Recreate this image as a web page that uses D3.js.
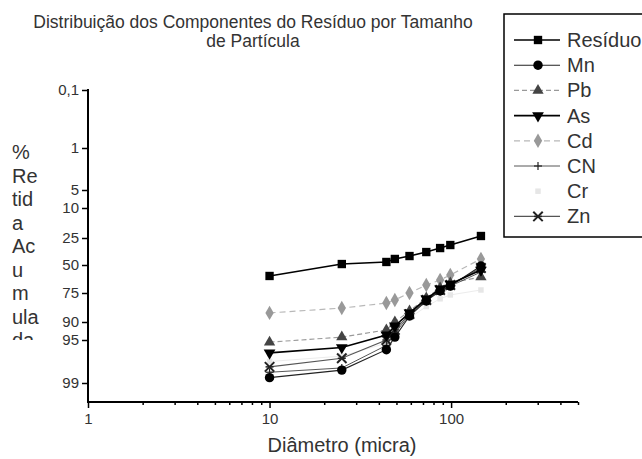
<!DOCTYPE html>
<html><head><meta charset="utf-8">
<script src="https://cdn.jsdelivr.net/npm/d3@7"></script>
<style>body{margin:0;background:#fff}svg{display:block}</style>
</head><body>
<svg id="c" width="642" height="459"></svg>
<script>
const diameters = [10, 25, 44, 49, 59, 73, 87, 99, 146];
const residuo = [59.8, 49.1, 47.2, 44.4, 41.7, 38.0, 34.3, 31.5, 24.0];
const mn = [98.5, 97.8, 95.9, 94.2, 86.9, 79.1, 73.2, 68.8, 50.9];
const pb = [95.2, 94.2, 92.2, 90.0, 84.3, 77.6, 70.5, 66.1, 60.7];
const as = [96.2, 95.7, 93.6, 91.1, 85.3, 78.1, 71.4, 67.0, 54.5];
const cd = [85.3, 82.8, 80.2, 78.6, 75.0, 67.9, 63.4, 58.9, 44.4];
const cn = [98.0, 97.6, 95.5, 93.1, 86.4, 78.6, 72.3, 68.8, 56.3];
const cr = [97.0, 96.5, 95.3, 93.0, 88.0, 82.0, 78.0, 76.0, 72.3];
const zn = [97.5, 96.7, 95.0, 92.2, 85.9, 78.6, 72.3, 67.9, 52.7];
const yTicks = [0.1, 1, 5, 10, 25, 50, 75, 90, 95, 99];
const yTickLabels = ["0,1", "1", "5", "10", "25", "50", "75", "90", "95", "99"];
const xMajor = [1, 10, 100];
const yTitleLines = ["%", "Re", "tid", "a", "Ac", "u", "m", "ula", "da"];
const seriesNames = ["Resíduo", "Mn", "Pb", "As", "Cd", "CN", "Cr", "Zn"];

const series = [
  {name: "Resíduo", values: residuo, stroke: "#000", sw: 1.6, dash: null, sym: d3.symbolSquare, size: 70, fill: "#000", mstroke: "none"},
  {name: "Mn", values: mn, stroke: "#222", sw: 1.1, dash: null, sym: d3.symbolCircle, size: 70, fill: "#000", mstroke: "none"},
  {name: "Pb", values: pb, stroke: "#999", sw: 1.1, dash: "5,3", sym: d3.symbolTriangle, size: 55, fill: "#444", mstroke: "none"},
  {name: "As", values: as, stroke: "#000", sw: 1.6, dash: null, sym: d3.symbolTriangle, size: 60, fill: "#000", mstroke: "none", flip: true},
  {name: "Cd", values: cd, stroke: "#b8b8b8", sw: 1.2, dash: "6,4", sym: d3.symbolDiamond, size: 60, fill: "#999", mstroke: "none"},
  {name: "CN", values: cn, stroke: "#444", sw: 0.9, dash: null, sym: d3.symbolCross, size: 40, fill: "none", mstroke: "#222", plus: true},
  {name: "Cr", values: cr, stroke: "#ececec", sw: 1, dash: null, sym: d3.symbolSquare, size: 30, fill: "#e6e6e6", mstroke: "none"},
  {name: "Zn", values: zn, stroke: "#555", sw: 1.1, dash: null, sym: d3.symbolTimes, size: 60, fill: "none", mstroke: "#222", star: true}
];

const svg = d3.select("#c");
const font = "'Liberation Sans', Arial, Helvetica, sans-serif";

const x = d3.scaleLog().domain([1, 500]).range([88, 578]);
const y = d3.scaleLinear().domain(yTicks).range([90, 148, 190, 208, 238, 265, 293, 322, 340, 383]);
const yBottom = 402;

// title
const title = svg.append("text").attr("font-family", font).attr("font-size", 17.5).attr("fill", "#333").attr("text-anchor", "middle");
title.append("tspan").attr("x", 253).attr("y", 28).text("Distribuição dos Componentes do Resíduo por Tamanho");
title.append("tspan").attr("x", 253).attr("y", 47).text("de Partícula");

// y axis
const yAxis = d3.axisLeft(y).tickValues(yTicks).tickFormat((d, i) => yTickLabels[i]).tickSize(6).tickPadding(3);
const gy = svg.append("g").attr("transform", "translate(88,0)").call(yAxis);
gy.select(".domain").remove();
gy.selectAll("line").attr("stroke", "#000").attr("stroke-width", 1.5);
gy.selectAll("text").attr("font-family", font).attr("font-size", 15).attr("fill", "#333");
svg.append("line").attr("x1", 88).attr("x2", 88).attr("y1", 89).attr("y2", yBottom + 1).attr("stroke", "#000").attr("stroke-width", 2);

// x axis
const minorTicks = [];
[1, 10, 100].forEach(b => { for (let k = 2; k <= 9; k++) { if (b * k <= 500) minorTicks.push(b * k); } });
const gxMinor = svg.append("g").attr("transform", `translate(0,${yBottom})`)
  .call(d3.axisBottom(x).tickValues(minorTicks).tickSize(3).tickFormat(""));
gxMinor.select(".domain").remove();
gxMinor.selectAll("line").attr("stroke", "#000").attr("stroke-width", 1.5);
const gx = svg.append("g").attr("transform", `translate(0,${yBottom})`)
  .call(d3.axisBottom(x).tickValues(xMajor).tickSize(6).tickPadding(5).tickFormat(d3.format("d")));
gx.select(".domain").remove();
gx.selectAll("line").attr("stroke", "#000").attr("stroke-width", 1.5);
gx.selectAll("text").attr("font-family", font).attr("font-size", 15).attr("fill", "#333");
svg.append("line").attr("x1", 87).attr("x2", 578).attr("y1", yBottom).attr("y2", yBottom).attr("stroke", "#000").attr("stroke-width", 2);

// axis titles
svg.append("text").attr("x", 342).attr("y", 452).attr("text-anchor", "middle")
  .attr("font-family", font).attr("font-size", 20).attr("fill", "#333").text("Diâmetro (micra)");
svg.append("clipPath").attr("id", "ytclip").append("rect").attr("x", 0).attr("y", 100).attr("width", 80).attr("height", 240);
const yt = svg.append("g").attr("clip-path", "url(#ytclip)");
yTitleLines.forEach((t, i) => {
  yt.append("text").attr("x", 12).attr("y", 159 + i * 23.5)
    .attr("font-family", font).attr("font-size", 20).attr("fill", "#333").text(t);
});

// series
const line = d3.line().x((d, i) => x(diameters[i])).y(d => y(d));
function drawMarker(g, s, cx, cy) {
  if (s.star) {
    g.append("path").attr("d", d3.symbol(d3.symbolTimes, s.size)()).attr("transform", `translate(${cx},${cy})`)
      .attr("fill", "none").attr("stroke", s.mstroke).attr("stroke-width", 2);
    g.append("line").attr("x1", cx - 4).attr("x2", cx + 4).attr("y1", cy).attr("y2", cy).attr("stroke", s.mstroke).attr("stroke-width", 1.5);
  } else if (s.plus) {
    g.append("line").attr("x1", cx - 4).attr("x2", cx + 4).attr("y1", cy).attr("y2", cy).attr("stroke", s.mstroke).attr("stroke-width", 1.2);
    g.append("line").attr("x1", cx).attr("x2", cx).attr("y1", cy - 4).attr("y2", cy + 4).attr("stroke", s.mstroke).attr("stroke-width", 1.2);
  } else {
    g.append("path").attr("d", d3.symbol(s.sym, s.size)())
      .attr("transform", `translate(${cx},${cy})${s.flip ? " rotate(180)" : ""}`)
      .attr("fill", s.fill).attr("stroke", s.mstroke);
  }
}
const order = [6, 4, 2, 5, 7, 1, 3, 0];
order.forEach(k => {
  const s = series[k];
  const g = svg.append("g");
  g.append("path").datum(s.values).attr("d", line).attr("fill", "none")
    .attr("stroke", s.stroke).attr("stroke-width", s.sw).attr("stroke-dasharray", s.dash);
  s.values.forEach((v, i) => drawMarker(g, s, x(diameters[i]), y(v)));
});

// legend
svg.append("rect").attr("x", 504).attr("y", 14).attr("width", 160).attr("height", 223)
  .attr("fill", "#fff").attr("stroke", "#000").attr("stroke-width", 1.5);
series.forEach((s, i) => {
  const ly = 40 + i * 25.2;
  const g = svg.append("g");
  if (s.name !== "Cr") {
    g.append("line").attr("x1", 514).attr("x2", 560).attr("y1", ly).attr("y2", ly)
      .attr("stroke", s.stroke).attr("stroke-width", s.sw).attr("stroke-dasharray", s.dash);
  }
  drawMarker(g, s, 538, ly);
  g.append("text").attr("x", 567).attr("y", ly + 7).attr("font-family", font).attr("font-size", 20)
    .attr("fill", "#333").text(seriesNames[i]);
});
</script>
</body></html>
